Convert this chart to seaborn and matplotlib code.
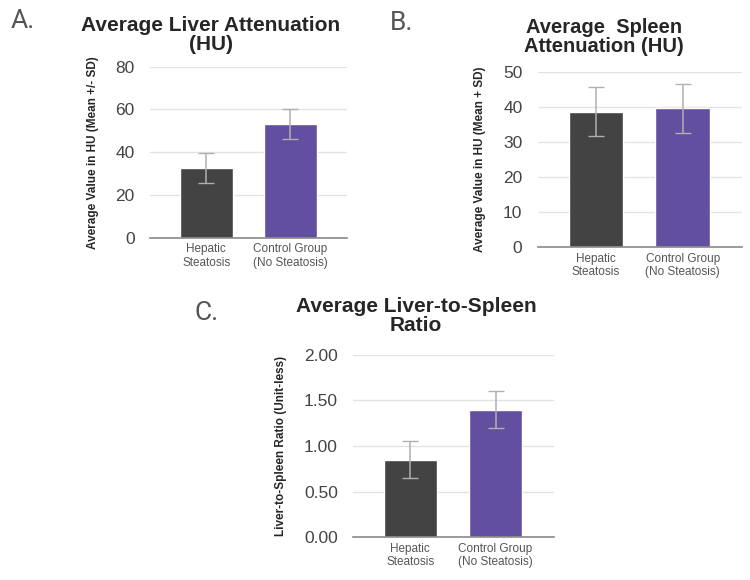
import numpy as np
import pandas as pd
import matplotlib
matplotlib.use('Agg')
import matplotlib.pyplot as plt
import seaborn as sns

# data
groups = ['Hepatic\nSteatosis', 'Control Group\n(No Steatosis)']
liver_mean = [32.7, 53.3]
liver_sd = [7.0, 7.0]
spleen_mean = [38.7, 39.6]
spleen_sd = [7.0, 7.0]
ratio_mean = [0.85, 1.40]
ratio_sd = [0.20, 0.20]

sns.set_style('white')
plt.rcParams['font.family'] = ['Liberation Sans', 'DejaVu Sans']

bar_colors = ['#434343', '#634f9f']

fig = plt.figure(figsize=(7.5, 5.8), dpi=100)


def draw_panel(rect, means, sds, ylim, ticks, fmt, ylabel):
    ax = fig.add_axes(rect)
    df = pd.DataFrame({'group': groups, 'value': means})
    sns.barplot(data=df, x='group', y='value', hue='group', palette=bar_colors,
                width=0.63, legend=False, ax=ax, saturation=1, zorder=2)
    # error bars at the bar centers
    xs = [p.get_x() + p.get_width() / 2 for p in ax.patches]
    ax.errorbar(xs, means, yerr=sds, fmt='none', ecolor='#b0b0b0',
                elinewidth=1.1, capsize=6, capthick=1.0, zorder=3)
    ax.set_xlim(-0.67, 1.68)
    ax.set_ylim(*ylim)
    ax.set_yticks(ticks)
    ax.set_yticklabels([fmt.format(t) for t in ticks], fontsize=12.5, color='#444444')
    ax.tick_params(axis='x', labelsize=8.5, colors='#555555', length=0, pad=4)
    ax.tick_params(axis='y', length=0, pad=11)
    ax.yaxis.grid(True, color='#e3e3e3', linewidth=1, zorder=0)
    ax.set_axisbelow(True)
    for s in ['top', 'right', 'left']:
        ax.spines[s].set_visible(False)
    ax.spines['bottom'].set_color('#8a8a8a')
    ax.spines['bottom'].set_linewidth(1.2)
    ax.set_xlabel('')
    ax.set_ylabel(ylabel, fontsize=8.5, fontweight='bold', labelpad=12)
    return ax


axA = draw_panel([0.200, 0.590, 0.263, 0.295], liver_mean, liver_sd,
                 (0, 80), [0, 20, 40, 60, 80], '{:.0f}',
                 'Average Value in HU (Mean +/- SD)')
axB = draw_panel([0.717, 0.574, 0.272, 0.302], spleen_mean, spleen_sd,
                 (0, 50), [0, 10, 20, 30, 40, 50], '{:.0f}',
                 'Average Value in HU (Mean + SD)')
axC = draw_panel([0.471, 0.074, 0.267, 0.314], ratio_mean, ratio_sd,
                 (0, 2.0), [0, 0.5, 1.0, 1.5, 2.0], '{:.2f}',
                 'Liver-to-Spleen Ratio (Unit-less)')

# titles
fig.text(211 / 750, 1 - 35 / 580, 'Average Liver Attenuation\n(HU)', ha='center',
         va='center', fontsize=15, fontweight='bold', linespacing=1.0)
fig.text(604 / 750, 1 - 37 / 580, 'Average  Spleen\nAttenuation (HU)', ha='center',
         va='center', fontsize=14.5, fontweight='bold', linespacing=1.0)
fig.text(416 / 750, 1 - 316 / 580, 'Average Liver-to-Spleen\nRatio', ha='center',
         va='center', fontsize=15, fontweight='bold', linespacing=1.0)

# panel letters
for lbl, x, y in [('A.', 11, 21), ('B.', 390, 23), ('C.', 194, 313)]:
    fig.text(x / 750, 1 - y / 580, lbl, ha='left', va='center', fontsize=19,
             color='#555555', family=['Roboto', 'DejaVu Sans'])

fig.savefig('out.png', dpi=100)
